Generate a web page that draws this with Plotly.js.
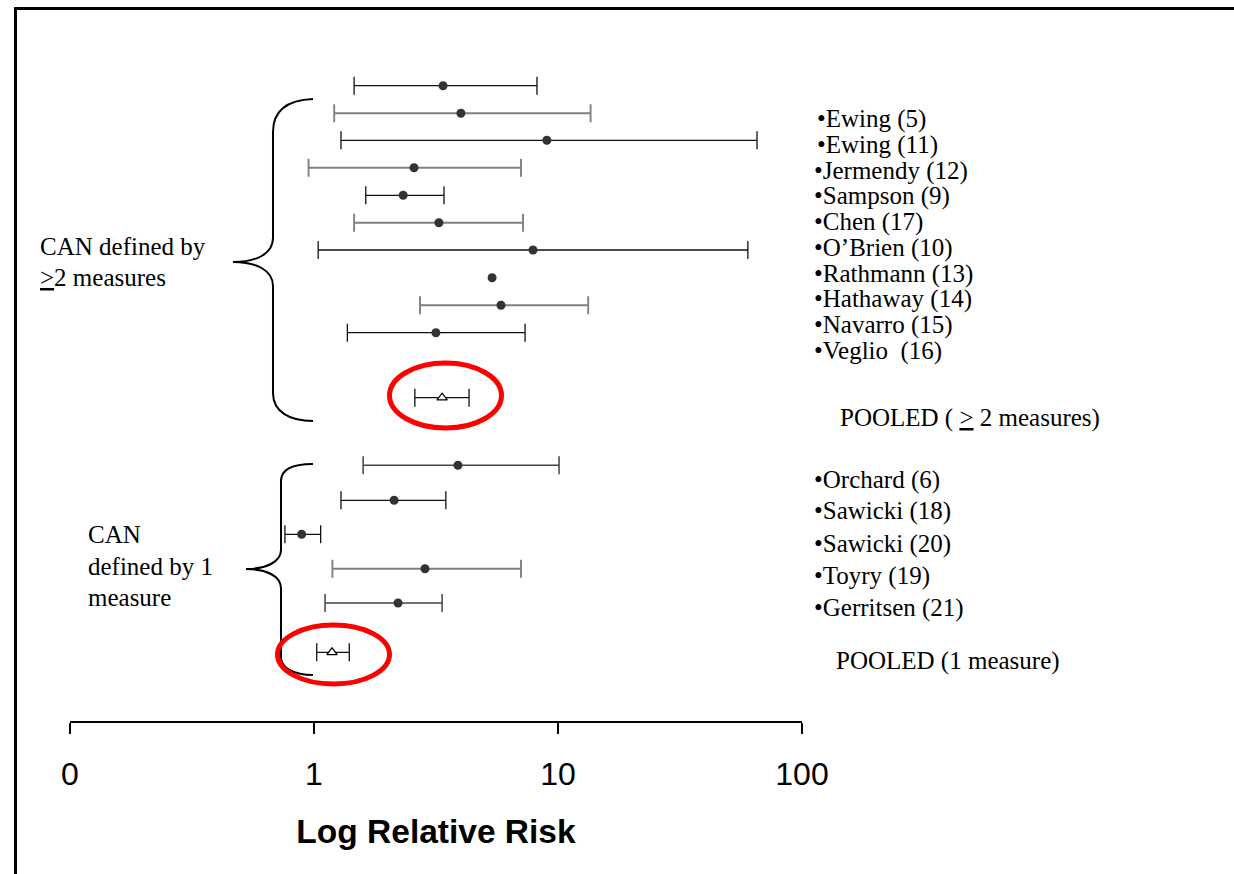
<!DOCTYPE html>
<html>
<head>
<meta charset="utf-8">
<script src="https://cdn.plot.ly/plotly-3.0.1.min.js"></script>
<style>html,body{margin:0;padding:0;background:#fff;}</style>
</head>
<body>
<div id="chart" style="width:1234px;height:874px;"></div>
<script>
// ---------- DATA ----------
const studies1 = ['Ewing (5)', 'Ewing (11)', 'Jermendy (12)', 'Sampson (9)', 'Chen (17)',
  'O\u2019Brien (10)', 'Rathmann (13)', 'Hathaway (14)', 'Navarro (15)', 'Veglio  (16)'];
const rr1   = [3.38, 4.0, 9.0, 2.57, 2.32, 3.25, 7.9, 5.37, 5.84, 3.16];
const lo1   = [1.46, 1.21, 1.29, 0.95, 1.63, 1.46, 1.04, null, 2.72, 1.37];
const hi1   = [8.2, 13.6, 65.4, 7.05, 3.41, 7.19, 60.0, null, 13.3, 7.33];

const studies2 = ['Orchard (6)', 'Sawicki (18)', 'Sawicki (20)', 'Toyry (19)', 'Gerritsen (21)'];
const rr2   = [3.89, 2.13, 0.89, 2.85, 2.21];
const lo2   = [1.59, 1.29, 0.76, 1.19, 1.11];
const hi2   = [10.1, 3.47, 1.065, 7.05, 3.35];

const pooledLabels = ['POOLED ( <u>&gt;</u> 2 measures)', 'POOLED (1 measure)'];
const pooledRR = [3.35, 1.185];
const pooledLo = [2.59, 1.026];
const pooledHi = [4.32, 1.395];

const groupLabels = [['CAN defined by', '<u>&gt;</u>2 measures'], ['CAN', 'defined by 1', 'measure']];
const tickVals = [0.1, 1, 10, 100];
const tickText = ['0', '1', '10', '100'];

// ---------- LAYOUT CONSTANTS (row slots, label slots, styles) ----------
const rowY1 = [85.7, 113.3, 140.3, 167.7, 195.3, 222.8, 250, 277.7, 305.3, 332.7];
const rowY2 = [465.3, 500.3, 534.3, 568.7, 603];
const pooledY = [397.7, 652.3];
const tone1 = ['k', 'g', 'k', 'g', 'k', 'g', 'k', 'k', 'g', 'k'];
const tone2 = ['d', 'k', 'k', 'g', 'd'];
const labY1 = [119, 145, 171, 196, 222, 248, 274, 299, 325, 351];
const labY2 = [480, 511, 544, 576, 608];
const pooledLabY = [418, 661];
const pooledLabX = [838, 834];
const groupLabY = [[246, 277], [534, 566, 597]];
const groupLabX = [38, 86];

const toneStyle = {
  k: {color: '#111111', thickness: 1.3},
  g: {color: '#808080', thickness: 1.9},
  d: {color: '#444444', thickness: 1.5}
};

const W = 1234, H = 874, L = 70, R = 802, B = 721;
const PX = x => (x - L) / (R - L);
const PY = y => 1 - y / B;

// ---------- TRACES ----------
const traces = [];
function addRows(rr, lo, hi, ys, tones) {
  Object.keys(toneStyle).forEach(t => {
    const idx = rr.map((v, i) => i).filter(i => tones[i] === t && lo[i] != null && hi[i] != null);
    if (!idx.length) return;
    traces.push({
      type: 'scatter', mode: 'markers', cliponaxis: false, hoverinfo: 'x',
      x: idx.map(i => rr[i]), y: idx.map(i => ys[i]),
      marker: {symbol: 'circle', size: 9, color: '#333333'},
      error_x: {
        type: 'data', symmetric: false,
        array: idx.map(i => hi[i] - rr[i]),
        arrayminus: idx.map(i => rr[i] - lo[i]),
        color: toneStyle[t].color, thickness: toneStyle[t].thickness, width: 9
      }
    });
  });
  // points with no confidence interval
  const bare = rr.map((v, i) => i).filter(i => lo[i] == null || hi[i] == null);
  if (bare.length) traces.push({
    type: 'scatter', mode: 'markers', cliponaxis: false, hoverinfo: 'x',
    x: bare.map(i => rr[i]), y: bare.map(i => ys[i]),
    marker: {symbol: 'circle', size: 9, color: '#333333'}
  });
}
addRows(rr1, lo1, hi1, rowY1, tone1);
addRows(rr2, lo2, hi2, rowY2, tone2);
traces.push({
  type: 'scatter', mode: 'markers', cliponaxis: false, hoverinfo: 'x',
  x: pooledRR, y: pooledY,
  marker: {symbol: 'triangle-up', size: 9, color: '#ffffff', line: {color: '#000', width: 1.2}},
  error_x: {
    type: 'data', symmetric: false,
    array: pooledRR.map((v, i) => pooledHi[i] - v),
    arrayminus: pooledRR.map((v, i) => v - pooledLo[i]),
    color: '#111111', thickness: 1.3, width: 9
  }
});

// ---------- ANNOTATIONS ----------
const serif = {family: 'Liberation Serif, Times New Roman, serif', size: 25, color: '#000'};
const annotations = [];
studies1.forEach((s, i) => annotations.push({
  xref: 'paper', yref: 'paper', x: PX(i < 2 ? 815 : 812), y: PY(labY1[i]),
  xanchor: 'left', yanchor: 'middle', text: '\u2022' + s, showarrow: false, font: serif
}));
studies2.forEach((s, i) => annotations.push({
  xref: 'paper', yref: 'paper', x: PX(812), y: PY(labY2[i]),
  xanchor: 'left', yanchor: 'middle', text: '\u2022' + s, showarrow: false, font: serif
}));
pooledLabels.forEach((s, i) => annotations.push({
  xref: 'paper', yref: 'paper', x: PX(pooledLabX[i]), y: PY(pooledLabY[i]),
  xanchor: 'left', yanchor: 'middle', text: s, showarrow: false, font: serif
}));
groupLabels.forEach((lines, g) => lines.forEach((s, j) => annotations.push({
  xref: 'paper', yref: 'paper', x: PX(groupLabX[g]), y: PY(groupLabY[g][j]),
  xanchor: 'left', yanchor: 'middle', text: s, showarrow: false, font: serif
})));

// ---------- SHAPES ----------
function pathOf(cmds) {
  return cmds.map(c => {
    const nums = c.slice(1);
    const pairs = [];
    for (let k = 0; k < nums.length; k += 2) {
      pairs.push(PX(nums[k]).toFixed(5) + ',' + PY(nums[k + 1]).toFixed(5));
    }
    return c[0] + ' ' + pairs.join(' ');
  }).join(' ');
}
const brace1 = pathOf([
  ['M', 313, 99], ['C', 288, 100, 273, 110, 273, 132], ['L', 273, 238],
  ['C', 273, 254, 256, 262, 233, 262], ['C', 256, 262, 273, 270, 273, 286],
  ['L', 273, 393], ['C', 273, 412, 290, 421, 313, 421]
]);
const brace2 = pathOf([
  ['M', 313, 464], ['C', 293, 464, 281, 469, 281, 481], ['L', 281, 550],
  ['C', 281, 562, 266, 569, 246, 569], ['C', 266, 569, 281, 576, 281, 588],
  ['L', 281, 657], ['C', 281, 668, 294, 675, 313, 675]
]);
const shapes = [
  {type: 'line', xref: 'paper', yref: 'paper', x0: PX(14), x1: PX(1236), y0: PY(8.5), y1: PY(8.5),
   line: {color: '#000', width: 3}},
  {type: 'line', xref: 'paper', yref: 'paper', x0: PX(15.5), x1: PX(15.5), y0: PY(7), y1: PY(880),
   line: {color: '#000', width: 3}},
  {type: 'path', xref: 'paper', yref: 'paper', path: brace1, line: {color: '#000', width: 2}},
  {type: 'path', xref: 'paper', yref: 'paper', path: brace2, line: {color: '#000', width: 2}},
  {type: 'circle', xref: 'paper', yref: 'paper', x0: PX(389.5), x1: PX(501.5), y0: PY(428), y1: PY(363),
   line: {color: '#ff0000', width: 5}},
  {type: 'circle', xref: 'paper', yref: 'paper', x0: PX(277.5), x1: PX(389.5), y0: PY(684), y1: PY(625),
   line: {color: '#ff0000', width: 5}}
];

const layout = {
  width: W, height: H,
  margin: {l: L, r: W - R, t: 0, b: H - B, pad: 0},
  paper_bgcolor: '#fff', plot_bgcolor: '#fff',
  showlegend: false,
  xaxis: {
    type: 'log', range: [-1, 2], tickvals: tickVals, ticktext: tickText,
    ticks: 'outside', ticklen: 11, tickwidth: 2, tickcolor: '#000',
    showline: true, linecolor: '#000', linewidth: 2,
    showgrid: false, zeroline: false, ticklabelstandoff: 13,
    tickfont: {family: 'Liberation Sans, Arial, sans-serif', size: 32, color: '#000'},
    title: {text: '<b>Log Relative Risk</b>', standoff: 28,
      font: {family: 'Liberation Sans, Arial, sans-serif', size: 33.5, color: '#000'}}
  },
  yaxis: {range: [B, 0], visible: false, showgrid: false, zeroline: false},
  shapes: shapes,
  annotations: annotations
};

Plotly.newPlot('chart', traces, layout, {displayModeBar: false, staticPlot: true});
</script>
</body>
</html>
